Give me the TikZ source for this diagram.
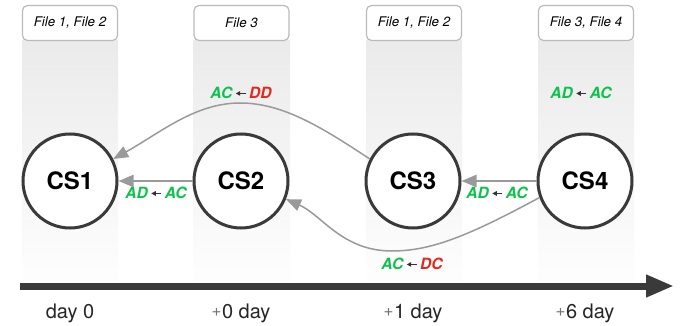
\documentclass[tikz,border=0pt]{standalone}
\usepackage{fontspec}
\setmainfont{TeX Gyre Heros}
\usetikzlibrary{arrows.meta}
\definecolor{gr}{HTML}{0BC24A}
\definecolor{rd}{HTML}{E6251C}
\definecolor{ln}{HTML}{9A9A9A}
\definecolor{dk}{HTML}{3A3A3A}
\newcommand{\lar}{\hspace{3pt}\tikz[x=1pt,y=1pt,baseline=0pt]{\draw[line width=1pt,draw=black!80,-{Triangle[length=4.5pt,width=4.5pt]}] (10,5.2) -- (0,5.2);}\hspace{3pt}}
\newcommand{\pl}{\raisebox{2pt}{\color{black!55}\fontsize{17}{17}\selectfont+}\hspace{0.5pt}}
\tikzset{
  cs/.style={circle, draw=dk, line width=3pt, fill=white, minimum size=94pt, inner sep=0pt, font=\fontsize{24}{24}\selectfont\bfseries},
  filebox/.style={draw=black!27, line width=1.2pt, rounded corners=5pt, fill=white, minimum width=95pt, minimum height=35pt, inner sep=0pt, font=\fontsize{13.3}{13.3}\selectfont\itshape},
  lab/.style={inner sep=0pt, font=\fontsize{15.5}{15.5}\selectfont\bfseries\itshape},
  day/.style={inner sep=0pt, font=\fontsize{20}{20}\selectfont, text=black!85},
  arr/.style={draw=ln, line width=2.2pt, -{Triangle[length=15pt,width=12pt]}},
  curve/.style={draw=ln, line width=1.5pt, -{Triangle[length=15pt,width=12pt]}},
  col/.style={top color=black!8, bottom color=black!0.5}
}
\begin{document}
\begin{tikzpicture}[x=1pt,y=-1pt]
\useasboundingbox (0,0) rectangle (683,326);
\fill[white] (0,0) rectangle (683,326);
% columns
\shade[col] (22,41) rectangle (118,282);
\shade[col] (193,41) rectangle (290,282);
\shade[col] (366,41) rectangle (462,282);
\shade[col] (538,41) rectangle (634,282);
% file boxes
\node[filebox] (f1) at (70,23) {File 1, File 2};
\node[filebox] (f2) at (241.5,23) {File 3};
\node[filebox] (f3) at (414,23) {File 1, File 2};
\node[filebox] (f4) at (586,23) {File 3, File 4};
% circles
\node[cs] (cs1) at (70,181) {CS1};
\node[cs] (cs2) at (241,181) {CS2};
\node[cs] (cs3) at (413,181) {CS3};
\node[cs] (cs4) at (585,181) {CS4};
% connectors
\draw[arr] (cs2) -- (cs1);
\draw[arr] (cs4) -- (cs3);
\draw[curve] (cs3.153) .. controls (320,126) and (282,103) .. (240,103) .. controls (195,103) and (160,133) .. (cs1.27);
\draw[curve] (cs4.200) .. controls (470,235) and (432,251) .. (392,251) .. controls (342,251) and (322,215) .. (cs2.-22);
% labels
\node[lab] (l1) at (241,93) {{\color{gr}AC}\lar{\color{rd}DD}};
\node[lab] (l2) at (156,193) {{\color{gr}AD}\lar{\color{gr}AC}};
\node[lab] (l3) at (497,193) {{\color{gr}AD}\lar{\color{gr}AC}};
\node[lab] (l4) at (581,93) {{\color{gr}AD}\lar{\color{gr}AC}};
\node[lab] (l5) at (412,264) {{\color{gr}AC}\lar{\color{rd}DC}};
% axis
\coordinate (a0) at (20,286);
\coordinate (a1) at (674,286);
\draw[dk, line width=7pt, -{Triangle[length=28pt,width=21pt]}] (a0) -- (a1);
% day labels
\node[day] (d0) at (70,313) {day 0};
\node[day] (d1) at (241,313) {\pl 0 day};
\node[day] (d2) at (413,313) {\pl 1 day};
\node[day] (d3) at (585,313) {\pl 6 day};
\end{tikzpicture}
\end{document}
